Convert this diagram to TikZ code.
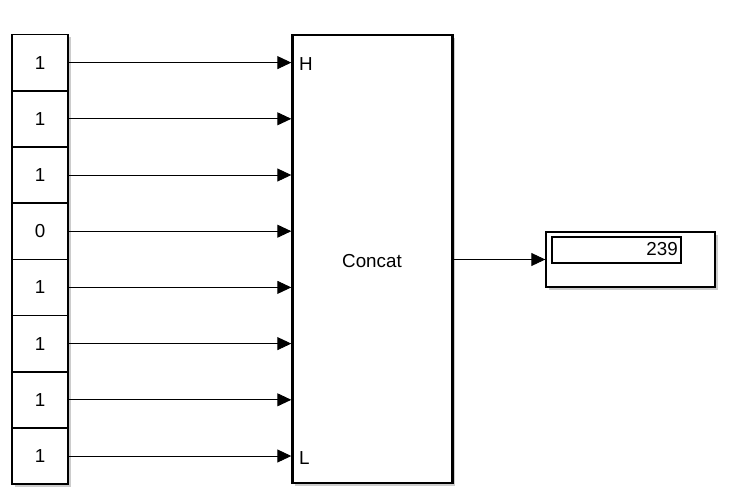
\documentclass[tikz,border=0pt]{standalone}
\usepackage{fontspec}
\setmainfont{Liberation Sans}
\usetikzlibrary{arrows.meta,shadows}
\begin{document}
\begin{tikzpicture}[x=1pt,y=-1pt,
  font=\fontsize{18.8}{22}\selectfont,
  blkshadow/.style={drop shadow={shadow xshift=2.5pt,shadow yshift=-2.5pt,opacity=0.4,fill=gray}},
  constblk/.style={draw,line width=1.6pt,fill=white,minimum width=56pt,minimum height=56.2pt,inner sep=0pt,blkshadow},
  concatblk/.style={draw,line width=2.8pt,fill=white,minimum width=160pt,minimum height=448pt,inner sep=0pt,blkshadow},
  dispblk/.style={draw,line width=1.4pt,fill=white,minimum width=169pt,minimum height=55pt,inner sep=0pt,blkshadow},
  dispfield/.style={draw,line width=1.1pt,minimum width=129pt,minimum height=26pt,inner sep=0pt},
  portlbl/.style={anchor=west,inner sep=0pt},
  sig/.style={line width=0.9pt,-{Triangle[length=14pt,width=13pt]}}]
\useasboundingbox (0,0) rectangle (731,501);

% constant source blocks
\foreach \i/\v in {1/1,2/1,3/1,4/0,5/1,6/1,7/1,8/1}
  \node[constblk] (c\i) at (40,{34.5+56.2*(\i-0.5)}) {\v};

% bit concatenation block
\node[concatblk] (cc) at (372.7,259) {};
\node (cclbl) at (372,261) {Concat};
\node[portlbl] (ph) at (299,64) {H};
\node[portlbl] (pl) at (299,458) {L};

% display block
\node[dispblk] (disp) at (630.5,259.5) {};
\node[dispfield] (field) at (616.5,250) {};
\node[anchor=east,inner sep=0pt] (val) at (678,249) {239};

% signal lines
\foreach \i in {1,...,8}
  \draw[sig] (c\i.east) -- (c\i.east -| cc.west);
\draw[sig] (cc.east |- disp.west) -- (disp.west);
\end{tikzpicture}
\end{document}
